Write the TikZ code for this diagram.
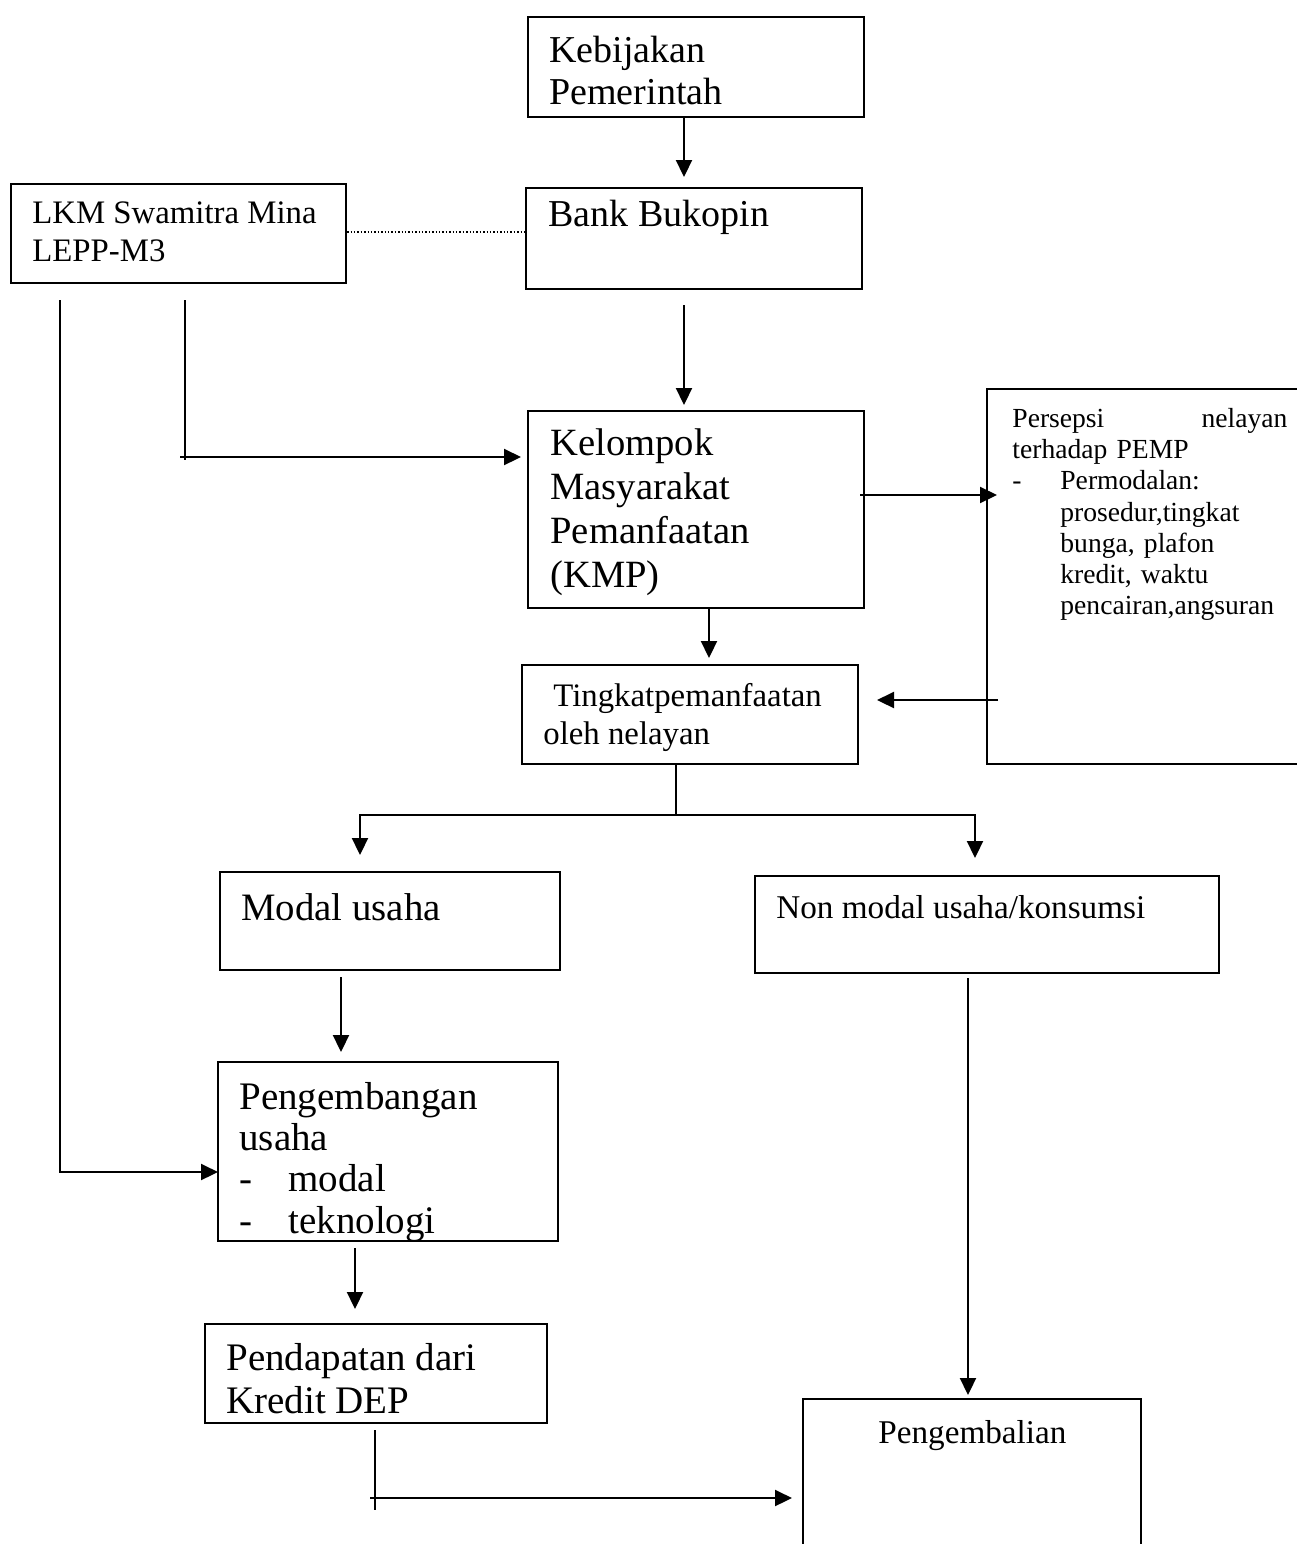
\documentclass[tikz,border=0pt]{standalone}
\usepackage{fontspec}
\setmainfont{Liberation Serif}
\usetikzlibrary{fit,arrows.meta}
\tikzset{
  box/.style={draw, line width=1.1pt, inner sep=0pt},
  txt/.style={anchor=north west, inner sep=0pt, align=left},
  arr/.style={line width=1.1pt, -{Triangle[length=8.5pt,width=8pt]}},
  ln/.style={line width=1.1pt},
}
\begin{document}
\begin{tikzpicture}[x=0.5pt,y=-0.5pt]
\useasboundingbox (0,0) rectangle (1297,1544);
\clip (0,0) rectangle (1297,1544);
\fill[white] (0,0) rectangle (1297,1544);

% boxes
\node[box, fit={(528,17)(864,117)}] (keb) {};
\node[box, fit={(526,188)(862,289)}] (bank) {};
\node[box, fit={(11,184)(346,283)}] (lkm) {};
\node[box, fit={(528,411)(864,608)}] (kmp) {};
\node[box, fit={(987,389)(1320,764)}] (pers) {};
\node[box, fit={(522,665)(858,764)}] (tk) {};
\node[box, fit={(220,872)(560,970)}] (mod) {};
\node[box, fit={(755,876)(1219,973)}] (non) {};
\node[box, fit={(218,1062)(558,1241)}] (peng) {};
\node[box, fit={(205,1324)(547,1423)}] (pend) {};
\node[box, fit={(803,1399)(1141,1580)}] (kemb) {};

% texts
\node[txt, font=\fontsize{19}{21}\selectfont] (tkeb) at (549,36) {Kebijakan\\Pemerintah};
\node[txt, font=\fontsize{19}{21}\selectfont] (tbank) at (548,200) {Bank Bukopin};
\node[txt, font=\fontsize{16.4}{19}\selectfont] (tlkm) at (32,201) {LKM Swamitra Mina\\LEPP-M3};
\node[txt, font=\fontsize{19.3}{22}\selectfont] (tkmp) at (550,428) {Kelompok\\Masyarakat\\Pemanfaatan\\(KMP)};
\node[txt, font=\fontsize{13.8}{15.6}\selectfont, text width=137.5pt] (tpers) at (1012,408)
  {Persepsi\hfill nelayan\\terhadap PEMP\\\makebox[24pt][l]{-}Permodalan:\\\hspace*{24pt}prosedur,tingkat\\\hspace*{24pt}bunga, plafon\\\hspace*{24pt}kredit, waktu\\\hspace*{24pt}pencairan,angsuran};
\node[txt, font=\fontsize{16.4}{19}\selectfont] (ttk) at (553,683) {Tingkatpemanfaatan\\\hspace*{-5pt}oleh nelayan};
\node[txt, font=\fontsize{19.4}{21}\selectfont] (tmod) at (241,893) {Modal usaha};
\node[txt, font=\fontsize{16.6}{19}\selectfont] (tnon) at (776,895) {Non modal usaha/konsumsi};
\node[txt, font=\fontsize{19.5}{20.6}\selectfont] (tpeng) at (239,1082) {Pengembangan\\usaha\\\makebox[24.5pt][l]{-}modal\\\makebox[24.5pt][l]{-}teknologi};
\node[txt, font=\fontsize{19.5}{21.5}\selectfont] (tpend) at (226,1343) {Pendapatan dari\\Kredit DEP};
\node[txt, font=\fontsize{16.6}{19}\selectfont] (tkemb) at (878,1420) {Pengembalian};

% dotted link
\draw[line width=0.7pt, densely dotted] (lkm.east |- 0,232) -- (bank.west |- 0,232);

% connectors
\coordinate (c1) at (684,177);
\draw[arr] (c1 |- keb.south) -- (c1);

\coordinate (s2) at (684,305);
\coordinate (c2) at (684,405);
\draw[arr] (s2) -- (c2);

\coordinate (s3) at (60,300);
\coordinate (c3) at (218,1172);
\draw[arr] (s3) |- (c3);

\coordinate (s4) at (185,300);
\coordinate (c4) at (521,457);
\draw[ln] (s4) -- (185,460);
\draw[arr] (180,457) -- (c4);

\coordinate (s5) at (860,495);
\coordinate (c5) at (997,495);
\draw[arr] (s5) -- (c5);

\coordinate (s6) at (998,700);
\coordinate (c6) at (877,700);
\draw[arr] (s6) -- (c6);

\coordinate (c7) at (709,658);
\draw[arr] (c7 |- kmp.south) -- (c7);

\coordinate (j8) at (676,815);
\coordinate (c8a) at (360,855);
\coordinate (c8b) at (975,858);
\draw[ln] (j8 |- tk.south) -- (j8);
\draw[arr] (j8) -| (c8a);
\draw[arr] (j8) -| (c8b);

\coordinate (s9) at (341,977);
\coordinate (c9) at (341,1052);
\draw[arr] (s9) -- (c9);

\coordinate (s10) at (355,1248);
\coordinate (c10) at (355,1309);
\draw[arr] (s10) -- (c10);

\coordinate (s11) at (375,1430);
\coordinate (e11) at (375,1510);
\coordinate (c11) at (792,1498);
\draw[ln] (s11) -- (e11);
\draw[arr] (370,1498) -- (c11);

\coordinate (s12) at (968,978);
\coordinate (c12) at (968,1395);
\draw[arr] (s12) -- (c12);
\end{tikzpicture}
\end{document}
